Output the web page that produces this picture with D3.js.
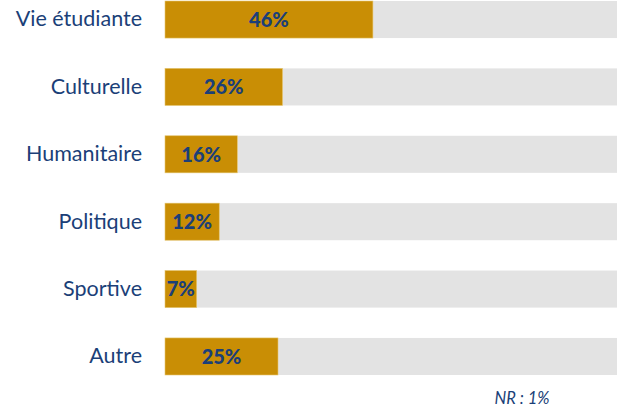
<!DOCTYPE html>
<html>
<head>
<meta charset="utf-8">
<script src="https://cdn.jsdelivr.net/npm/d3@7"></script>
<style>
  body { margin: 0; background: #fff; }
  text { font-family: Lato, "Open Sans", sans-serif; }
</style>
</head>
<body>
<div id="chart"></div>
<script>
// data
const categories = ["Vie étudiante", "Culturelle", "Humanitaire", "Politique", "Sportive", "Autre"];
const values = [46, 26, 16, 12, 7, 25];
const noteText = "NR : 1%";

const width = 624, height = 410;

const svg = d3.select("#chart")
  .append("svg")
    .attr("width", width)
    .attr("height", height);

// scales
const x = d3.scaleLinear()
    .domain([0, 100])
    .range([165, 617]);

const y = d3.scaleBand()
    .domain(categories)
    .range([1, 375])
    .paddingInner(0.45)
    .paddingOuter(0);

// background tracks
svg.selectAll(".track")
  .data(categories)
  .join("rect")
    .attr("class", "track")
    .attr("x", x(0))
    .attr("y", d => y(d))
    .attr("width", x(100) - x(0))
    .attr("height", y.bandwidth())
    .attr("fill", "#e3e3e3");

// bars
svg.selectAll(".bar")
  .data(values)
  .join("rect")
    .attr("class", "bar")
    .attr("x", x(0))
    .attr("y", (d, i) => y(categories[i]))
    .attr("width", d => x(d) - x(0))
    .attr("height", y.bandwidth())
    .attr("fill", "#c98e05")
    .attr("stroke", "#e6c770")
    .attr("stroke-width", 0.6);

// value labels
svg.selectAll(".val")
  .data(values)
  .join("text")
    .attr("class", "val")
    .attr("x", d => (x(0) + x(d)) / 2)
    .attr("y", (d, i) => y(categories[i]) + y.bandwidth() / 2)
    .attr("dy", "0.36em")
    .attr("text-anchor", "middle")
    .attr("font-size", 20)
    .attr("font-weight", 900)
    .attr("fill", "#1b3f78")
    .text(d => d + "%");

// category axis
const yAxis = svg.append("g")
    .attr("transform", `translate(${x(0)}, 0)`)
    .call(d3.axisLeft(y).tickSize(0).tickPadding(23));

yAxis.select(".domain").remove();
yAxis.selectAll("text")
    .attr("font-size", 21.5)
    .attr("fill", "#1b3f78")
    .style("font-family", "Lato, 'Open Sans', sans-serif");

// note
svg.append("text")
    .attr("x", 522)
    .attr("y", 404)
    .attr("text-anchor", "middle")
    .attr("font-size", 16.5)
    .attr("font-style", "italic")
    .attr("fill", "#1b3f78")
    .text(noteText);
</script>
</body>
</html>
